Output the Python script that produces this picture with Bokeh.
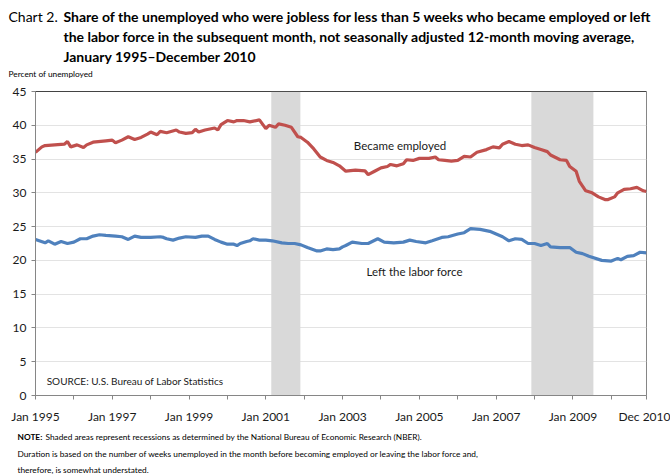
from bokeh.plotting import figure
from bokeh.models import Label, FixedTicker, Span, Title, LinearAxis
from bokeh.embed import file_html
from bokeh.resources import INLINE

# ---- data (month index: 0 = Jan 1995, 191 = Dec 2010) ----
emp_month = [0, 2, 3, 6, 9, 10, 11, 13, 15, 16, 18, 22, 24, 25, 27, 29, 31, 33, 35, 36,
             38, 39, 41, 44, 45, 47, 49, 50, 51, 53, 56, 57, 58, 60, 62, 63, 65, 67, 70, 72,
             73, 75, 76, 78, 80, 82, 83, 85, 87, 89, 91, 93, 95, 97, 100, 103, 104, 106, 108, 110,
             111, 113, 115, 116, 118, 120, 123, 125, 126, 128, 130, 132, 134, 136, 138, 141, 143, 145, 146, 148,
             150, 152, 154, 156, 158, 160, 161, 164, 166, 167, 169, 170, 172, 174, 176, 178, 179, 181, 182, 184,
             186, 188, 190, 191]
emp_value = [36.0, 36.8, 37.0, 37.1, 37.2, 37.6, 36.8, 37.1, 36.7, 37.1, 37.5, 37.7, 37.8, 37.4, 37.8, 38.3, 37.9, 38.2, 38.7, 39.0,
             38.6, 39.1, 38.9, 39.3, 39.0, 38.8, 38.9, 39.4, 39.0, 39.3, 39.6, 39.3, 40.1, 40.7, 40.5, 40.7, 40.7, 40.5, 40.8, 39.5,
             40.0, 39.7, 40.2, 40.0, 39.7, 38.3, 38.2, 37.5, 36.5, 35.3, 34.8, 34.5, 34.0, 33.2, 33.35, 33.25, 32.7, 33.2, 33.7, 33.9,
             34.2, 34.0, 34.3, 34.9, 34.8, 35.1, 35.1, 35.3, 34.9, 34.8, 34.7, 34.8, 35.4, 35.3, 36.0, 36.4, 36.8, 36.65, 37.2, 37.6,
             37.2, 37.0, 37.1, 36.7, 36.4, 36.1, 35.6, 34.9, 34.8, 33.9, 33.2, 31.7, 30.3, 30.0, 29.4, 29.0, 29.0, 29.4, 30.0, 30.5,
             30.6, 30.8, 30.3, 30.2]

lf_month = [0, 3, 4, 6, 8, 10, 12, 14, 16, 18, 20, 22, 25, 27, 29, 31, 33, 36, 39, 40,
            41, 43, 45, 47, 50, 52, 54, 56, 58, 60, 62, 63, 64, 66, 67, 68, 70, 72, 74, 77,
            79, 81, 83, 85, 88, 89, 91, 93, 95, 96, 97, 99, 102, 104, 107, 109, 112, 115, 117, 119,
            122, 124, 127, 129, 132, 134, 136, 139, 142, 144, 146, 148, 150, 152, 154, 156, 158, 160, 161, 164,
            167, 169, 171, 173, 177, 180, 182, 183, 185, 187, 189, 191]
lf_value = [23.1, 22.6, 22.9, 22.4, 22.8, 22.5, 22.7, 23.2, 23.2, 23.6, 23.8, 23.7, 23.6, 23.5, 23.1, 23.6, 23.4, 23.4, 23.5, 23.4,
            23.2, 23.0, 23.3, 23.5, 23.4, 23.6, 23.6, 23.1, 22.7, 22.4, 22.4, 22.2, 22.5, 22.8, 22.9, 23.2, 23.0, 23.0, 22.9, 22.6,
            22.5, 22.5, 22.3, 21.9, 21.4, 21.4, 21.7, 21.6, 21.7, 22.0, 22.2, 22.7, 22.5, 22.5, 23.2, 22.7, 22.6, 22.7, 23.0, 22.8,
            22.6, 22.9, 23.4, 23.5, 23.9, 24.1, 24.7, 24.6, 24.3, 23.9, 23.5, 22.9, 23.2, 23.1, 22.5, 22.5, 22.2, 22.5, 22.0, 21.9,
            21.9, 21.2, 21.0, 20.6, 20.0, 19.9, 20.3, 20.1, 20.6, 20.7, 21.2, 21.1]

rec_start = [73.7, 155.0]
rec_end = [82.8, 174.4]

x_tick_months = [0, 24, 48, 72, 96, 120, 144, 168, 191]
x_tick_labels = ["Jan 1995", "Jan 1997", "Jan 1999", "Jan 2001", "Jan 2003",
                 "Jan 2005", "Jan 2007", "Jan 2009", "Dec 2010"]
x_minor_months = [12, 36, 60, 84, 108, 132, 156, 180]
y_ticks = [0, 5, 10, 15, 20, 25, 30, 35, 40, 45]

# ---- figure ----
W, H = 670, 475
FL, FR, FT, FB = 35, 646, 91, 395   # frame edges in page pixels
FONT = "Lato"
p = figure(width=W, height=H, x_range=(0, 191), y_range=(0, 45),
           output_backend="svg", toolbar_location=None, title_location=None,
           min_border_left=FL, min_border_right=W - FR, min_border_top=FT, min_border_bottom=H - FB)
p.outline_line_color = "#868686"
p.background_fill_color = "white"

p.xgrid.visible = False
p.ygrid.grid_line_color = "#E3E3E3"
p.ygrid.grid_line_width = 1

p.yaxis.ticker = FixedTicker(ticks=y_ticks)
p.xaxis.ticker = FixedTicker(ticks=x_tick_months, minor_ticks=x_minor_months)
p.xaxis.major_label_overrides = {m: l for m, l in zip(x_tick_months, x_tick_labels)}
for ax in (p.xaxis[0], p.yaxis[0]):
    ax.axis_line_color = "#868686"
    ax.major_tick_line_color = "#868686"
    ax.minor_tick_line_color = "#868686"
    ax.major_tick_in = 0
    ax.major_tick_out = 4
    ax.minor_tick_in = 0
    ax.minor_tick_out = 4
    ax.major_label_text_font = FONT
    ax.major_label_text_font_size = "12px"
    ax.major_label_text_color = "#1a1a1a"
p.yaxis.minor_tick_line_color = None
p.xaxis.major_label_standoff = 9
p.yaxis.major_label_standoff = 5

# recessions
p.quad(left=rec_start, right=rec_end, bottom=0, top=45, fill_color="#D9D9D9", line_color=None)
p.add_layout(Span(location=45, dimension="width", line_color="black", line_width=1.2))

p.line(emp_month, emp_value, line_color="#C0504D", line_width=3.2)
p.line(lf_month, lf_value, line_color="#4F81BD", line_width=3.2)

p.add_layout(Label(x=99.5, y=37.0, text="Became employed", text_font=FONT, text_font_size="11.5px",
                   text_baseline="middle", text_color="#1a1a1a"))
p.add_layout(Label(x=103.5, y=18.4, text="Left the labor force", text_font=FONT, text_font_size="11.5px",
                   text_baseline="middle", text_color="#1a1a1a"))
p.add_layout(Label(x=3.5, y=2.1, text="SOURCE: U.S. Bureau of Labor Statistics", text_font=FONT,
                   text_font_size="10px", text_baseline="middle", text_color="#1a1a1a"))


# ---- texts outside the frame: zero-height titles positioned by invisible spacer axes ----
def spacer(d, side):
    ax = LinearAxis(ticker=FixedTicker(ticks=[95.5], minor_ticks=[]), axis_line_color=None,
                    major_tick_line_color=None, minor_tick_line_color=None,
                    major_tick_in=0, major_tick_out=d, minor_tick_in=0, minor_tick_out=0,
                    major_label_standoff=0, major_label_text_font_size="0px",
                    major_label_overrides={95.5: ""})
    p.add_layout(ax, side)


def ztitle(text, x, side, size, bold=False):
    fs = float(size)
    p.add_layout(Title(text=text, align="left", offset=x - FL, vertical_align="middle",
                       standoff=-(4 + 2.0 * fs), text_font=FONT, text_font_size=f"{size}px",
                       text_font_style="bold" if bold else "normal", text_color="black"), side)


# above panel, stacked from the frame upwards
spacer(18, "above")                     # -> y 71
ztitle("Percent of unemployed", 8, "above", 8.3)
spacer(17, "above")                     # -> y 55
ztitle("January 1995\u2013December 2010", 63, "above", 14, True)
spacer(20, "above")                     # -> y 35
ztitle("the labor force in the subsequent month, not seasonally adjusted 12-month moving average,", 63, "above", 14, True)
spacer(20, "above")                     # -> y 15
ztitle("Share of the unemployed who were jobless for less than 5 weeks who became employed or left", 63, "above", 14, True)
ztitle("Chart 2.", 8, "above", 14)

# below panel, stacked from the x axis downwards
spacer(10, "below")                     # -> y 438
ztitle("NOTE:", 17, "below", 8.3, True)
ztitle("Shaded areas represent recessions as determined by the National Bureau of Economic Research (NBER).", 45, "below", 8.3)
spacer(17, "below")                     # -> y 455
ztitle("Duration is based on the number of weeks unemployed in the month before becoming employed or leaving the labor force and,", 17, "below", 8.3)
spacer(16, "below")                     # -> y 470
ztitle("therefore, is somewhat understated.", 17, "below", 8.3)

open("out.html", "w").write(file_html(p, INLINE))
